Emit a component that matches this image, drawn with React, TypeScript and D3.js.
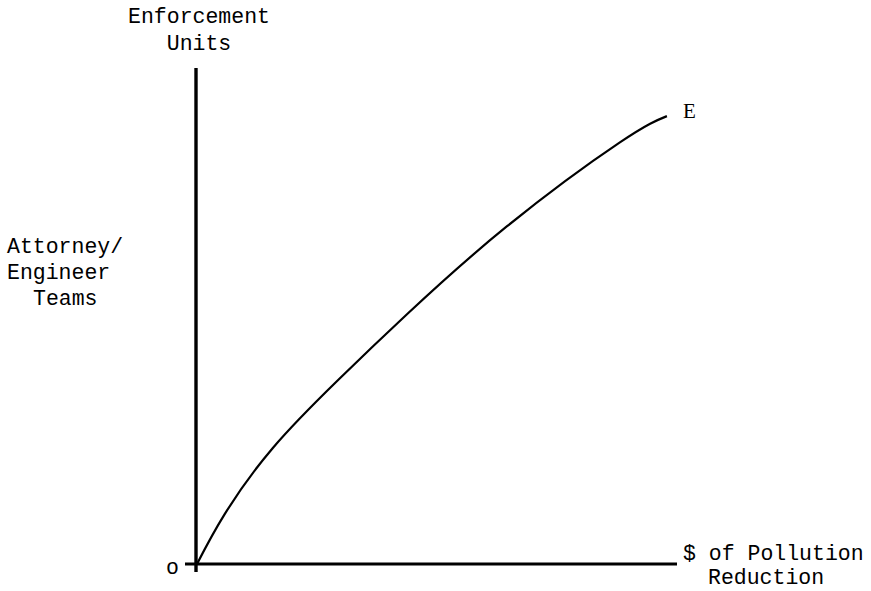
import React from "react";
import * as d3 from "d3";

// Curve E: $ of pollution reduction (x) vs enforcement units (y), arbitrary units
const curveX = [0, 5.8, 15.8, 29.4, 43.8, 64.6, 88.1, 97.9];
const curveY = [0, 10.1, 23.4, 37.1, 50.4, 68.1, 85.0, 90.3];
const curveLabel = "E";
const yTitle = ["Enforcement", "Units"];
const yLabel = ["Attorney/", "Engineer", "Teams"];
const xTitle = ["$ of Pollution", "Reduction"];
const originLabel = "o";

const W = 871;
const H = 591;

export default function App() {
  const x = d3.scaleLinear().domain([0, 100]).range([197, 677]);
  const y = d3.scaleLinear().domain([0, 100]).range([564, 68]);
  const pts: [number, number][] = curveX.map((v, i) => [v, curveY[i]]);
  const line = d3
    .line<[number, number]>()
    .x((d) => x(d[0]))
    .y((d) => y(d[1]))
    .curve(d3.curveNatural);
  const mono = "'Liberation Mono', 'Courier New', monospace";
  const last = pts[pts.length - 1];
  return (
    <svg
      width={W}
      height={H}
      style={{ position: "absolute", left: 0, top: 0, background: "#fff" }}
    >
      <rect width={W} height={H} fill="#fff" />
      {/* axes */}
      <line x1={x(0) - 1} x2={x(0) - 1} y1={y(100)} y2={y(0) + 8} stroke="#000" strokeWidth={3.4} />
      <line x1={x(0) - 12} x2={x(100)} y1={y(0)} y2={y(0)} stroke="#000" strokeWidth={3} />
      {/* curve */}
      <path d={line(pts) || ""} fill="none" stroke="#000" strokeWidth={2.2} />
      <text x={x(last[0]) + 16} y={y(last[1]) + 2} fontFamily="'Liberation Serif', serif" fontSize={21} fill="#000">
        {curveLabel}
      </text>
      {/* y title */}
      <g fontFamily={mono} fontSize={21.5} fill="#000" textAnchor="middle">
        <text x={199} y={23}>{yTitle[0]}</text>
        <text x={199} y={50}>{yTitle[1]}</text>
      </g>
      <g fontFamily={mono} fontSize={21.5} fill="#000">
        <text x={7} y={253}>{yLabel[0]}</text>
        <text x={7} y={279}>{yLabel[1]}</text>
        <text x={33} y={305}>{yLabel[2]}</text>
      </g>
      <g fontFamily={mono} fontSize={21.5} fill="#000">
        <text x={683} y={560}>{xTitle[0]}</text>
        <text x={708} y={584}>{xTitle[1]}</text>
        <text x={166} y={574}>{originLabel}</text>
      </g>
    </svg>
  );
}
